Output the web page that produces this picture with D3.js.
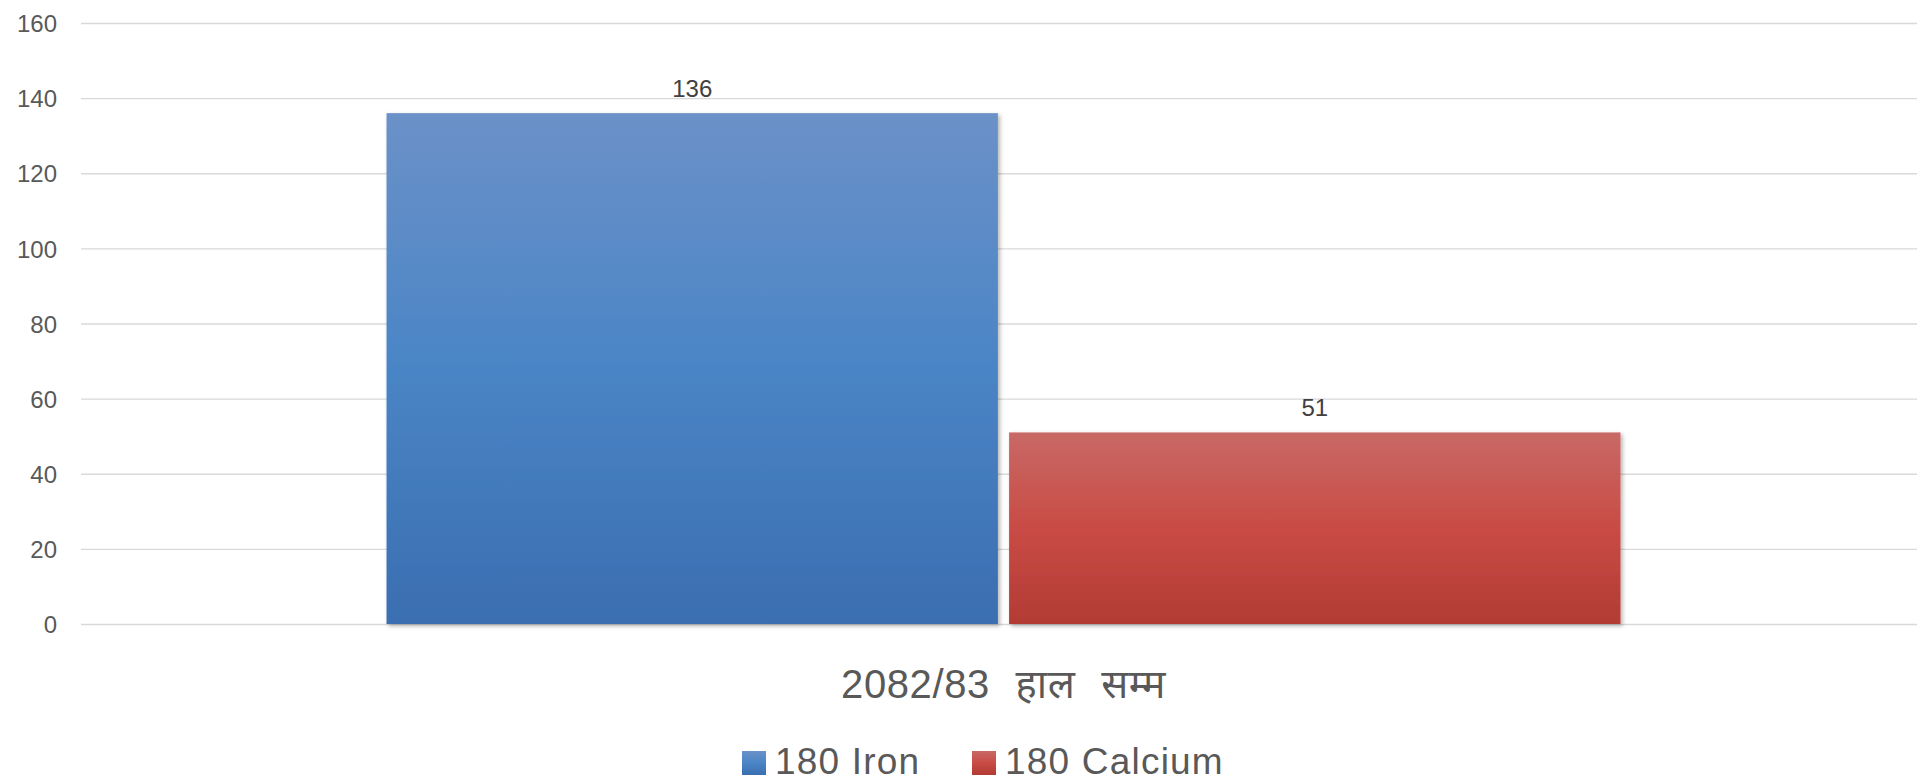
<!DOCTYPE html>
<html><head><meta charset="utf-8">
<script src="https://cdn.jsdelivr.net/npm/d3@7"></script>
<style>
html,body{margin:0;padding:0;background:#fff;}
svg{display:block;font-family:"Liberation Sans","Noto Sans",Arial,sans-serif;}
</style></head>
<body>
<script>
const categories = ["2082/83 हाल सम्म"];
const seriesNames = ["180 Iron", "180 Calcium"];
const ironValues = [136];
const calciumValues = [51];
const yTicks = [0, 20, 40, 60, 80, 100, 120, 140, 160];

const W = 1917, H = 782;
const plot = {left: 81, right: 1926, top: 23, bottom: 624};
const svg = d3.select("body").append("svg").attr("width", W).attr("height", H);
const defs = svg.append("defs");
const grads = [
  {id: "gBlue", stops: ["#6b91c8", "#4a85c6", "#3a6eb1"]},
  {id: "gRed", stops: ["#c86966", "#c94b45", "#b23b34"]}
];
grads.forEach(g => {
  const lg = defs.append("linearGradient").attr("id", g.id).attr("x1", 0).attr("y1", 0).attr("x2", 0).attr("y2", 1);
  lg.append("stop").attr("offset", "0%").attr("stop-color", g.stops[0]);
  lg.append("stop").attr("offset", "50%").attr("stop-color", g.stops[1]);
  lg.append("stop").attr("offset", "100%").attr("stop-color", g.stops[2]);
});
const f = defs.append("filter").attr("id", "sh").attr("x", "-5%").attr("y", "-5%").attr("width", "110%").attr("height", "110%");
f.append("feDropShadow").attr("dx", 2).attr("dy", 2).attr("stdDeviation", 2).attr("flood-color", "#000").attr("flood-opacity", 0.3);

const y = d3.scaleLinear().domain([0, 160]).range([plot.bottom, plot.top]);
const x0 = d3.scaleBand().domain(categories).range([plot.left, plot.right]).paddingInner(0).paddingOuter(0.2476);
const x1 = d3.scaleBand().domain(seriesNames).range([0, x0.bandwidth()]).paddingInner(0.018);

// gridlines
const yAxis = d3.axisLeft(y).tickValues(yTicks).tickSize(-(W - plot.left)).tickPadding(24);
const ga = svg.append("g").attr("transform", `translate(${plot.left},0)`).call(yAxis);
ga.select(".domain").remove();
ga.selectAll(".tick line").attr("stroke", "#d9d9d9").attr("stroke-width", 1.3);
ga.selectAll(".tick text").attr("fill", "#595959").attr("font-size", 24).attr("dy", "0.36em");

const colorIds = ["gBlue", "gRed"];
const series = [ironValues, calciumValues];
const grp = svg.append("g");
categories.forEach((c, ci) => {
  seriesNames.forEach((s, si) => {
    const v = series[si][ci];
    const bx = x0(c) + x1(s);
    grp.append("rect").attr("x", bx).attr("y", y(v)).attr("width", x1.bandwidth()).attr("height", y(0) - y(v))
      .attr("fill", `url(#${colorIds[si]})`).attr("filter", "url(#sh)");
    grp.append("text").attr("x", bx + x1.bandwidth() / 2).attr("y", y(v) - 16).attr("text-anchor", "middle")
      .attr("font-size", 24).attr("fill", "#404040").text(v);
  });
  svg.append("text").attr("x", x0(c) + x0.bandwidth() / 2).attr("y", 698).attr("text-anchor", "middle")
    .attr("font-size", 40).attr("word-spacing", 14).attr("letter-spacing", 0.6).attr("fill", "#595959").text(c);
});

// legend
const legendItems = [{name: seriesNames[0], g: "gBlue", x: 742}, {name: seriesNames[1], g: "gRed", x: 972}];
const lg = svg.append("g");
legendItems.forEach(it => {
  lg.append("rect").attr("x", it.x).attr("y", 751).attr("width", 24).attr("height", 24).attr("fill", `url(#${it.g})`);
  lg.append("text").attr("x", it.x + 33).attr("y", 774).attr("font-size", 37).attr("letter-spacing", 1.2)
    .attr("fill", "#595959").text(it.name);
});
</script>
</body></html>
